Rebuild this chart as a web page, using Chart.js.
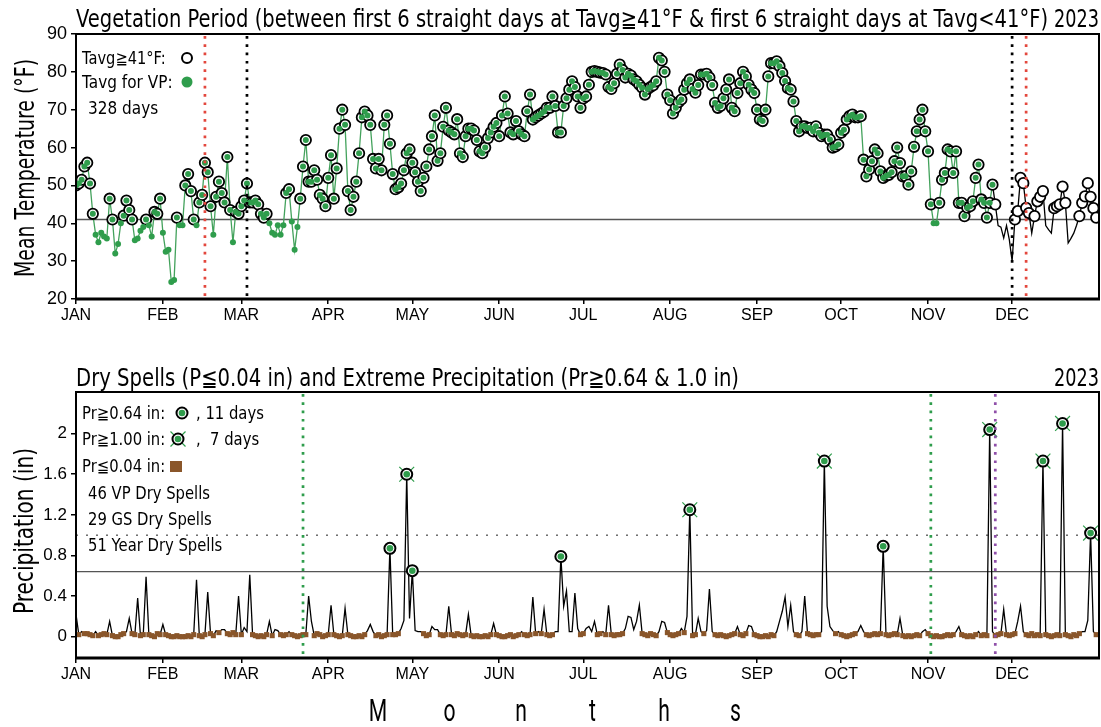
<!DOCTYPE html>
<html>
<head>
<meta charset="utf-8">
<script src="https://cdn.jsdelivr.net/npm/chart.js@4.4.1/dist/chart.umd.min.js"></script>
<style>
  html, body { margin: 0; padding: 0; background: #fff; }
  #wrap { position: relative; width: 1101px; height: 727px; overflow: hidden; background: #fff; }
  canvas { position: absolute; left: 0; }
  #tempChart { top: 0; }
  #precChart { top: 345px; }
</style>
</head>
<body>
<div id="wrap">
  <canvas id="tempChart" width="1101" height="345"></canvas>
  <canvas id="precChart" width="1101" height="382"></canvas>
</div>
<script>
// ---- calendar axis ----
const monthLabels = ['JAN','FEB','MAR','APR','MAY','JUN','JUL','AUG','SEP','OCT','NOV','DEC'];
const monthStartDay = [0, 31, 59, 90, 120, 151, 181, 212, 243, 273, 304, 334];

// ---- daily mean temperature 2023 (°F), day 0 = Jan 1 ----
const meanTempF = [
  50, 50.5, 51.5, 55, 56, 50.5, 42.5, 37, 35, 37.5, 36.5, 36, 46.5, 41, 32, 34.5, 40, 42, 46, 43.5,
  41, 35.5, 36, 38, 39, 41, 39.5, 36.5, 43, 42.5, 46.5,
  37.5, 32.5, 33, 24.5, 25, 41.5, 39.5, 39.5, 50, 53, 48.5, 41, 39.5, 45.5, 47.5, 56, 53.5, 44.5, 37,
  47, 51, 48, 45.5, 57.5, 43.5, 35, 43, 42.5,
  44.5, 46, 50.5, 45.5, 45.5, 46, 45, 42.5, 41.5, 42.5, 40, 37.5, 37, 39.5, 37, 39.5, 48, 49, 40.5, 33,
  39, 46.5, 55, 62, 51, 51, 54, 51.5, 47.5, 46.5, 44.5,
  52, 58, 46.5, 54.5, 65, 70, 66, 48.5, 43.5, 47, 51, 58.5, 68, 69.5, 68.5, 66,
  57, 54.5, 57, 54, 66, 68.5, 61, 53, 49, 49.5, 50.5, 54, 58.5, 59.5, 56, 53.5, 51, 48.5, 52, 55,
  59.5, 63, 68.5, 56.5, 58.5, 65.5, 70.5, 64.5, 64, 63.5, 67.5, 58.5, 57.5, 63, 65, 65, 64.5, 62, 59, 58.5,
  60, 62.5, 64, 65.5, 66.5, 63, 68.5, 73.5, 69, 64, 63.5, 67, 64.3, 63.5, 63, 69.6, 74, 67.4, 68, 68.5,
  69, 69.5, 70.5, 70.5, 73.5, 71, 64, 64, 71, 73, 75.3, 77.5, 76, 73.5, 70.5, 73, 73.5, 76.6, 80, 80.2,
  80, 79.8, 79.7, 79.3, 76, 75.5, 77, 79.5, 81.9, 80.5, 78.5, 79.5, 79, 78, 77.5, 76.6, 75.8, 74, 75.5, 76,
  76.5, 77.5, 83.7, 83, 80, 74, 72.5, 69, 70.5, 72, 72.7, 75.3, 77, 78, 75.5, 74.5, 76.5, 79.3, 79.3, 79.5,
  78.5, 76.5, 71.8, 70.5,
  71, 73, 75.3, 78, 70.5, 69.6, 74.4, 77, 80, 78.8, 76.6, 75.3, 74.4, 70, 67.4, 67, 70, 78.8, 82.3, 82.3,
  82.8, 81.5, 79.7, 77.6, 75.7, 75.3, 72.2, 67, 64.3, 65.6, 65.6, 65.2, 65.2, 64.3, 65.6, 63.9, 63, 63.4, 63.4, 62.1,
  60, 60.3, 60.8, 63.9, 64.7, 67.4, 68.3, 68.7, 68, 68, 68.3, 56.8, 52.4, 54.2, 56.4, 59.5, 58.5, 53.7, 52, 52.5,
  52.8, 53.5, 56.4, 60, 55.9, 52.4, 52.4, 50.2, 53.7, 60.2, 64.3, 67.4, 70, 64.3, 59, 45, 40, 40, 45.4, 51.5,
  53.3, 59.5, 59, 53.3, 59, 45.4, 45.4, 41.9, 44.1, 44.5, 45.8, 52, 55.5, 46.3, 45.4, 41.5, 45.4, 50.2, 45, 39.4,
  39, 36.1, 39.4, 35.7, 30, 41, 43.2, 52, 50.6, 44.1, 42.7, 37.4, 41.9, 45.8, 47, 48.5, 39.4, 38.3, 37.4, 44,
  44.5, 45, 49.7, 45.4, 34.8, 36, 37.4, 39.5, 41.9, 45.4, 47.1, 50.6, 47, 44, 41.5
];

// ---- daily precipitation 2023 (in) ----
const precipIn = [
  0.22, 0.02, 0.05, 0.03, 0.03, 0.02, 0.01, 0.05, 0.01, 0.02,
  0.03, 0.02, 0.15, 0.01, 0, 0, 0.02, 0.03, 0.05, 0.18,
  0.03, 0.02, 0.38, 0.01, 0.02, 0.59, 0.02, 0.01, 0, 0.03,
  0.02, 0.12, 0.02, 0.01, 0, 0, 0.01, 0, 0, 0,
  0.01, 0, 0.02, 0.56, 0.01, 0, 0.02, 0.44, 0.03, 0.01,
  0.06, 0.04, 0.07, 0.07, 0.03, 0.02, 0.04, 0.02, 0.40, 0.02,
  0.09, 0.05, 0.61, 0.02, 0.01, 0, 0.01, 0, 0.02, 0.15,
  0.01, 0.07, 0.06, 0.02, 0.01, 0.02, 0.05, 0.02, 0.01, 0,
  0.01, 0.02, 0.02, 0.40, 0.15, 0.01, 0.03, 0.02, 0, 0.01,
  0.02, 0.31, 0.02, 0.01, 0, 0.01, 0.28, 0.02, 0.01, 0,
  0, 0.01, 0, 0.02, 0.06, 0.12, 0.05, 0.01, 0.02, 0,
  0.01, 0.02, 0.87, 0.02, 0.02, 0.03, 0.08, 0.16, 1.60, 0.18,
  0.65, 0.06, 0.05, 0.05, 0.03, 0.01, 0.02, 0.10, 0.07, 0.07,
  0.02, 0.01, 0.02, 0.30, 0.02, 0.01, 0.03, 0.02, 0.01, 0.02,
  0.22, 0.01, 0, 0.01, 0, 0, 0.01, 0, 0.02, 0.13,
  0.02, 0.01, 0, 0, 0.01, 0.02, 0, 0.01, 0.02, 0.05,
  0.02, 0.01, 0.02, 0.39, 0.03, 0.05, 0.03, 0.27, 0.02, 0.01,
  0.02, 0.05, 0.05, 0.79, 0.30, 0.45, 0.05, 0.05, 0.43, 0.08,
  0.02, 0.03, 0.08, 0.10, 0.05, 0.15, 0.02, 0.03, 0.05, 0.02,
  0.31, 0.02, 0.01, 0.02, 0.02, 0.03, 0.08, 0.20, 0.19, 0.07,
  0.15, 0.31, 0.03, 0.02, 0.01, 0.03, 0.02, 0.01, 0.05, 0.15,
  0.14, 0.04, 0.02, 0.01, 0.02, 0.03, 0.08, 0.04, 0.20, 1.25,
  0.01, 0.02, 0.18, 0.05, 0.03, 0.06, 0.47, 0.05, 0.02, 0.01,
  0.02, 0.01, 0, 0.01, 0.02, 0.03, 0.10, 0.02, 0.01, 0.03,
  0.11, 0.10, 0.02, 0.01, 0, 0, 0.01, 0, 0.02, 0.01,
  0.05, 0.15, 0.25, 0.39, 0.10, 0.31, 0.05, 0.02, 0.01, 0.05,
  0.40, 0.03, 0.02, 0.01, 0.02, 0.02, 0.05, 1.73, 0.30, 0.10,
  0.06, 0.03, 0.05, 0.02, 0.01, 0, 0.01, 0.02, 0.03, 0.05,
  0.11, 0.05, 0.02, 0.01, 0.02, 0.03, 0.02, 0.03, 0.89, 0.02,
  0.01, 0.02, 0.03, 0.02, 0.18, 0.01, 0, 0.01, 0, 0.01,
  0.02, 0.01, 0.05, 0.07, 0.03, 0.01, 0, 0.01, 0, 0,
  0.01, 0.02, 0.01, 0.02, 0.05, 0.10, 0.02, 0.01, 0, 0.01,
  0, 0.02, 0.05, 0.01, 0.02, 0.01, 2.04, 0.05, 0.01, 0.02,
  0.03, 0.27, 0.02, 0.01, 0.02, 0.03, 0.15, 0.30, 0.05, 0.02,
  0.01, 0.03, 0.01, 0.02, 0.01, 1.73, 0.02, 0.01, 0, 0.01,
  0.02, 0.01, 2.10, 0.02, 0.01, 0, 0.02, 0.01, 0.03, 0.05,
  0.05, 0.16, 1.02, 0.05, 0.02
];

// ---- thresholds and period boundaries (day of year, 0 = Jan 1) ----
const warmThresholdF = 41;
const vpDayCount = 328;             // days of the vegetation period inside this year
const vpBoundaryDays = [46, 339];   // red dotted lines
const warmSpellDays = [61, 334];    // black dotted lines
const gsBoundaryDays = [81, 305];   // green dotted lines (growing season)
const vpEndDays = [328];            // purple dotted line
const extremeLevels = [0.64, 1.0];
const dryLevel = 0.04;

// ---- text ----
const tempTitle = 'Vegetation Period (between first 6 straight days at Tavg\u226741\u00B0F & first 6 straight days at Tavg<41\u00B0F)';
const precTitle = 'Dry Spells (P\u22660.04 in) and Extreme Precipitation (Pr\u22670.64 & 1.0 in)';
const yearText = '2023';
const tempLegend = ['Tavg\u226741\u00B0F:', 'Tavg for VP:', '328 days'];
const precLegend = ['Pr\u22670.64 in:', 'Pr\u22671.00 in:', 'Pr\u22660.04 in:', '46 VP Dry Spells', '29 GS Dry Spells', '51 Year Dry Spells'];
const precLegendCounts = [', 11 days', ',  7 days'];
const xTitleLetters = ['M', 'o', 'n', 't', 'h', 's'];

// ---- styling ----
const GREEN = '#2f9d4c';
const GREEN_LINE = '#43a25c';
const RED = '#e3473d';
const PURPLE = '#8f4fa9';
const BROWN = '#8a562a';
const TEXT_FONT = '"DejaVu Sans", "Liberation Sans", sans-serif';
const TICK_FAMILY = '"Liberation Sans Narrow", "Liberation Sans", Arial, sans-serif';

function drawText(ctx, str, x, y, o) {
  ctx.save();
  ctx.font = (o.weight || 'normal') + ' ' + o.size + 'px ' + (o.family || TEXT_FONT);
  ctx.fillStyle = o.color || '#000';
  ctx.textAlign = 'left';
  ctx.textBaseline = 'alphabetic';
  const w = ctx.measureText(str).width;
  const sx = o.width ? o.width / w : (o.sx || 1);
  ctx.translate(x, y);
  if (o.rotate) ctx.rotate(o.rotate);
  ctx.scale(sx, 1);
  const align = o.align || 'left';
  const dx = align === 'left' ? 0 : (align === 'center' ? -w / 2 : -w);
  ctx.fillText(str, dx, 0);
  ctx.restore();
}

function vDotted(ctx, area, x, color) {
  ctx.save();
  ctx.strokeStyle = color;
  ctx.lineWidth = 2.7;
  ctx.setLineDash([2.7, 5.6]);
  ctx.beginPath();
  ctx.moveTo(x, area.top + 2);
  ctx.lineTo(x, area.bottom);
  ctx.stroke();
  ctx.restore();
}

function hLine(ctx, area, y, color, width, dash) {
  ctx.save();
  ctx.strokeStyle = color;
  ctx.lineWidth = width;
  if (dash) ctx.setLineDash(dash);
  ctx.beginPath();
  ctx.moveTo(area.left, y);
  ctx.lineTo(area.right, y);
  ctx.stroke();
  ctx.restore();
}

function drawFrame(ctx, area) {
  ctx.save();
  ctx.strokeStyle = '#000';
  ctx.lineWidth = 2;
  ctx.strokeRect(area.left, area.top, area.right - area.left, area.bottom - area.top);
  ctx.lineWidth = 3;
  ctx.beginPath();
  ctx.moveTo(area.left - 1, area.bottom);
  ctx.lineTo(area.right + 1, area.bottom);
  ctx.stroke();
  ctx.restore();
}

function marker(ctx, x, y, o) {
  ctx.save();
  if (o.cross) {
    ctx.strokeStyle = GREEN;
    ctx.lineWidth = 1.2;
    const r = 7.5;
    ctx.beginPath();
    ctx.moveTo(x - r, y - r); ctx.lineTo(x + r, y + r);
    ctx.moveTo(x + r, y - r); ctx.lineTo(x - r, y + r);
    ctx.stroke();
  }
  if (o.ring) {
    ctx.beginPath();
    ctx.arc(x, y, o.ring, 0, Math.PI * 2);
    ctx.fillStyle = '#fff';
    ctx.fill();
    ctx.lineWidth = 2;
    ctx.strokeStyle = '#000';
    ctx.stroke();
  }
  if (o.dot) {
    ctx.beginPath();
    ctx.arc(x, y, o.dot, 0, Math.PI * 2);
    ctx.fillStyle = GREEN;
    ctx.fill();
  }
  ctx.restore();
}

// shared x axis (days of the year with month ticks)
function dayAxis() {
  return {
    type: 'linear',
    min: 0,
    max: 365,
    afterBuildTicks: s => { s.ticks = monthStartDay.map(v => ({ value: v })); },
    afterFit: s => { s.height = 30; s.paddingLeft = 0; s.paddingRight = 0; },
    ticks: {
      autoSkip: false,
      maxRotation: 0,
      padding: 2,
      color: '#000',
      font: { family: TICK_FAMILY, size: 16 },
      callback: v => monthLabels[monthStartDay.indexOf(v)]
    },
    grid: { display: true, drawOnChartArea: false, drawTicks: true, tickLength: 5, color: '#000', lineWidth: 1.5 },
    border: { display: false }
  };
}

const days = meanTempF.map((_, i) => i);

// ================= temperature panel =================
const tempDecor = {
  id: 'tempDecor',
  beforeDatasetsDraw(chart) {
    const { ctx, chartArea, scales } = chart;
    hLine(ctx, chartArea, scales.y.getPixelForValue(warmThresholdF), '#555', 1.3);
  },
  afterDatasetsDraw(chart) {
    const { ctx, chartArea, scales } = chart;
    warmSpellDays.forEach(d => vDotted(ctx, chartArea, scales.x.getPixelForValue(d), '#000'));
    vpBoundaryDays.forEach(d => vDotted(ctx, chartArea, scales.x.getPixelForValue(d), RED));
  },
  afterDraw(chart) {
    const { ctx, chartArea } = chart;
    drawFrame(ctx, chartArea);
    drawText(ctx, tempTitle, 76, 27, { size: 24, width: 972 });
    drawText(ctx, yearText, 1099, 27, { size: 24, width: 45, align: 'right' });
    drawText(ctx, 'Mean Temperature (\u00B0F)', 34, 168, { size: 27, width: 218, align: 'center', rotate: -Math.PI / 2 });
    drawText(ctx, tempLegend[0], 82, 64, { size: 17, sx: 0.86 });
    marker(ctx, 187, 58, { ring: 5 });
    drawText(ctx, tempLegend[1], 82, 88, { size: 17, sx: 0.9 });
    marker(ctx, 187, 82, { dot: 5.5 });
    drawText(ctx, tempLegend[2], 88, 114, { size: 17, sx: 0.9 });
  }
};

new Chart(document.getElementById('tempChart'), {
  type: 'line',
  data: {
    datasets: [
      {
        // green fill for days in the vegetation period
        data: days.map(i => ({ x: i, y: i < vpDayCount ? meanTempF[i] : null })),
        showLine: false,
        pointRadius: 3,
        pointBorderWidth: 0,
        pointBackgroundColor: GREEN,
        order: 0
      },
      {
        // open circles for days at or above the threshold
        data: days.map(i => ({ x: i, y: meanTempF[i] >= warmThresholdF ? meanTempF[i] : null })),
        showLine: false,
        pointRadius: 5.2,
        pointBorderWidth: 1.8,
        pointBorderColor: '#000',
        pointBackgroundColor: '#fff',
        order: 1
      },
      {
        data: days.map(i => ({ x: i, y: meanTempF[i] })),
        borderWidth: 1.3,
        pointRadius: 0,
        tension: 0,
        segment: { borderColor: c => c.p1DataIndex < vpDayCount ? GREEN_LINE : '#000' },
        order: 2
      }
    ]
  },
  options: {
    responsive: false,
    animation: false,
    devicePixelRatio: 1,
    events: [],
    layout: { autoPadding: false, padding: { left: 0, right: 2, top: 34, bottom: 16 } },
    plugins: { legend: { display: false }, tooltip: { enabled: false } },
    scales: {
      x: dayAxis(),
      y: {
        min: 20,
        max: 90,
        afterFit: s => { s.width = 76; },
        ticks: { stepSize: 10, padding: 4, color: '#000', font: { family: '"Liberation Sans", Arial, sans-serif', size: 18 } },
        grid: { display: true, drawOnChartArea: false, drawTicks: true, tickLength: 5, color: '#000', lineWidth: 1.5 },
        border: { display: false }
      }
    }
  },
  plugins: [tempDecor]
});

// ================= precipitation panel =================
const precDecor = {
  id: 'precDecor',
  beforeDatasetsDraw(chart) {
    const { ctx, chartArea, scales } = chart;
    hLine(ctx, chartArea, scales.y.getPixelForValue(extremeLevels[0]), '#555', 1.2);
    hLine(ctx, chartArea, scales.y.getPixelForValue(extremeLevels[1]), '#222', 1, [2, 8]);
  },
  afterDatasetsDraw(chart) {
    const { ctx, chartArea, scales } = chart;
    gsBoundaryDays.forEach(d => vDotted(ctx, chartArea, scales.x.getPixelForValue(d), GREEN));
    vpEndDays.forEach(d => vDotted(ctx, chartArea, scales.x.getPixelForValue(d), PURPLE));
  },
  afterDraw(chart) {
    const { ctx, chartArea } = chart;
    drawFrame(ctx, chartArea);
    drawText(ctx, precTitle, 76, 41, { size: 24, width: 663 });
    drawText(ctx, yearText, 1099, 41, { size: 24, width: 45, align: 'right' });
    drawText(ctx, 'Precipitation (in)', 33, 186, { size: 27, width: 166, align: 'center', rotate: -Math.PI / 2 });

    drawText(ctx, precLegend[0], 82, 74, { size: 17, sx: 0.87 });
    marker(ctx, 182, 68, { ring: 5.5, dot: 3.3 });
    drawText(ctx, precLegendCounts[0], 196, 74, { size: 17, sx: 0.87 });
    drawText(ctx, precLegend[1], 82, 100, { size: 17, sx: 0.87 });
    marker(ctx, 178, 94, { ring: 5.5, dot: 3.3, cross: true });
    drawText(ctx, precLegendCounts[1], 196, 100, { size: 17, sx: 0.87 });
    drawText(ctx, precLegend[2], 82, 127, { size: 17, sx: 0.87 });
    ctx.save(); ctx.fillStyle = BROWN; ctx.fillRect(170, 116, 12, 11); ctx.restore();
    drawText(ctx, precLegend[3], 88, 154, { size: 17, sx: 0.87 });
    drawText(ctx, precLegend[4], 88, 180, { size: 17, sx: 0.87 });
    drawText(ctx, precLegend[5], 88, 206, { size: 17, sx: 0.87 });

    const cx0 = 378, step = 71.5;
    xTitleLetters.forEach((ch, i) => {
      drawText(ctx, ch, cx0 + i * step, 376, { size: 32, family: 'Roboto, "DejaVu Sans", sans-serif', sx: 0.66, align: 'center' });
    });
  }
};

new Chart(document.getElementById('precChart'), {
  type: 'line',
  data: {
    datasets: [
      {
        // inner green dot of extreme days
        data: days.map(i => ({ x: i, y: precipIn[i] >= extremeLevels[0] ? precipIn[i] : null })),
        showLine: false,
        pointRadius: 3.3,
        pointBorderWidth: 0,
        pointBackgroundColor: GREEN,
        order: 0
      },
      {
        data: days.map(i => ({ x: i, y: precipIn[i] >= extremeLevels[0] ? precipIn[i] : null })),
        showLine: false,
        pointRadius: 5.5,
        pointBorderWidth: 2,
        pointBorderColor: '#000',
        pointBackgroundColor: '#fff',
        order: 1
      },
      {
        // green cross for days at or above 1 inch
        data: days.map(i => ({ x: i, y: precipIn[i] >= extremeLevels[1] ? precipIn[i] : null })),
        showLine: false,
        pointStyle: 'crossRot',
        pointRadius: 10.5,
        pointBorderWidth: 1.2,
        pointBorderColor: GREEN,
        order: 2
      },
      {
        // dry days
        data: days.map(i => ({ x: i, y: precipIn[i] <= dryLevel ? precipIn[i] : null })),
        showLine: false,
        pointStyle: 'rect',
        pointRadius: 3.6,
        pointBorderWidth: 0,
        pointBackgroundColor: BROWN,
        order: 3
      },
      {
        data: days.map(i => ({ x: i, y: precipIn[i] })),
        borderColor: '#000',
        borderWidth: 1.3,
        pointRadius: 0,
        tension: 0,
        order: 4
      }
    ]
  },
  options: {
    responsive: false,
    animation: false,
    devicePixelRatio: 1,
    events: [],
    layout: { autoPadding: false, padding: { left: 0, right: 2, top: 47, bottom: 39 } },
    plugins: { legend: { display: false }, tooltip: { enabled: false } },
    scales: {
      x: dayAxis(),
      y: {
        min: -0.21,
        max: 2.41,
        afterFit: s => { s.width = 76; },
        afterBuildTicks: s => { s.ticks = [0, 0.4, 0.8, 1.2, 1.6, 2].map(v => ({ value: v })); },
        ticks: {
          padding: 4,
          color: '#000',
          font: { family: '"Liberation Sans", Arial, sans-serif', size: 17 },
          callback: v => (v === 0 ? '0' : (v === 2 ? '2' : v.toFixed(1)))
        },
        grid: { display: true, drawOnChartArea: false, drawTicks: true, tickLength: 5, color: '#000', lineWidth: 1.5 },
        border: { display: false }
      }
    }
  },
  plugins: [precDecor]
});
</script>
</body>
</html>
